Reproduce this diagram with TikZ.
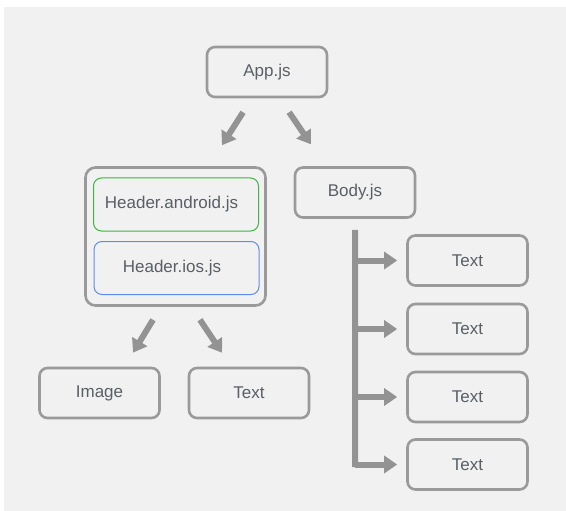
\documentclass[tikz,border=0pt]{standalone}
\usepackage{fontspec}
\setmainfont{Liberation Sans}
\usetikzlibrary{arrows.meta,calc}
\definecolor{bgpanel}{HTML}{F1F1F1}
\definecolor{edgegray}{HTML}{9A9A9A}
\definecolor{arrowgray}{HTML}{939393}
\definecolor{labelgray}{HTML}{5A5F66}
\definecolor{androidgreen}{HTML}{3DB83D}
\definecolor{iosblue}{HTML}{5B8DEF}
\tikzset{
  filebox/.style={draw=edgegray, line width=2.6pt, rounded corners=8pt,
    minimum width=120pt, minimum height=50pt, inner sep=0pt,
    text=labelgray, font=\fontsize{17}{20}\selectfont},
  groupbox/.style={draw=edgegray, line width=2.6pt, rounded corners=10pt,
    minimum width=180pt, minimum height=138pt, inner sep=0pt},
  platformbox/.style={line width=1pt, rounded corners=8pt,
    minimum width=165pt, minimum height=53pt, inner sep=0pt,
    text=labelgray, font=\fontsize{17}{20}\selectfont},
  bigarrow/.style={draw=arrowgray, line width=6pt,
    -{Triangle[length=13pt, width=17pt]}},
  trunkline/.style={draw=arrowgray, line width=6pt}
}
\begin{document}
\begin{tikzpicture}[x=1pt, y=-1pt]
  \useasboundingbox (0,0) rectangle (566,511);
  % canvas
  \fill[white] (0,0) rectangle (566,511);
  \fill[bgpanel] (4,7) rectangle (566,511);

  % top level
  \node[filebox] (app) at (267,72) {App.js};

  % header group with platform variants
  \node[groupbox] (hdr) at (175.5,236.5) {};
  \node[platformbox, draw=androidgreen] (android) at (176,204.5) {\hspace*{-9pt}Header.android.js};
  \node[platformbox, draw=iosblue] (ios) at (176.5,268) {\hspace*{-9pt}Header.ios.js};

  % body
  \node[filebox] (body) at (355,192.5) {Body.js};

  % header children
  \node[filebox] (img) at (99.5,393) {Image};
  \node[filebox] (htext) at (249,393) {Text};

  % body children
  \node[filebox] (bt1) at (467.5,260.5) {Text};
  \node[filebox] (bt2) at (467.5,329) {Text};
  \node[filebox] (bt3) at (467.5,397) {Text};
  \node[filebox] (bt4) at (467.5,464.5) {Text};

  % arrows from App.js
  \draw[bigarrow, shorten <=16.6pt, shorten >=24.9pt]
    ($(app.south)+(-15,0)$) -- ($(hdr.north)+(33.1,0)$);
  \draw[bigarrow, shorten <=16.8pt, shorten >=26.5pt]
    ($(app.south)+(12.7,0)$) -- ($(body.north)+(-29.3,0)$);

  % arrows from the header group
  \draw[bigarrow, shorten <=15.2pt, shorten >=16.4pt]
    ($(hdr.south)+(-14.6,0)$) -- ($(img.north)+(25,0)$);
  \draw[bigarrow, shorten <=15.6pt, shorten >=16.8pt]
    ($(hdr.south)+(15.8,0)$) -- ($(htext.north)+(-17.7,0)$);

  % trunk below Body.js
  \coordinate (trunktop) at ($(body.south)+(0,11)$);
  \coordinate (trunkbot) at ($(bt4.west)+(-51,2.5)$);
  \draw[trunkline] (trunktop) -- (trunkbot);

  % branches to the body children
  \foreach \t in {bt1,bt2,bt3,bt4}
    \draw[bigarrow, shorten >=9pt] (trunktop |- \t.west) -- (\t.west);
\end{tikzpicture}
\end{document}
